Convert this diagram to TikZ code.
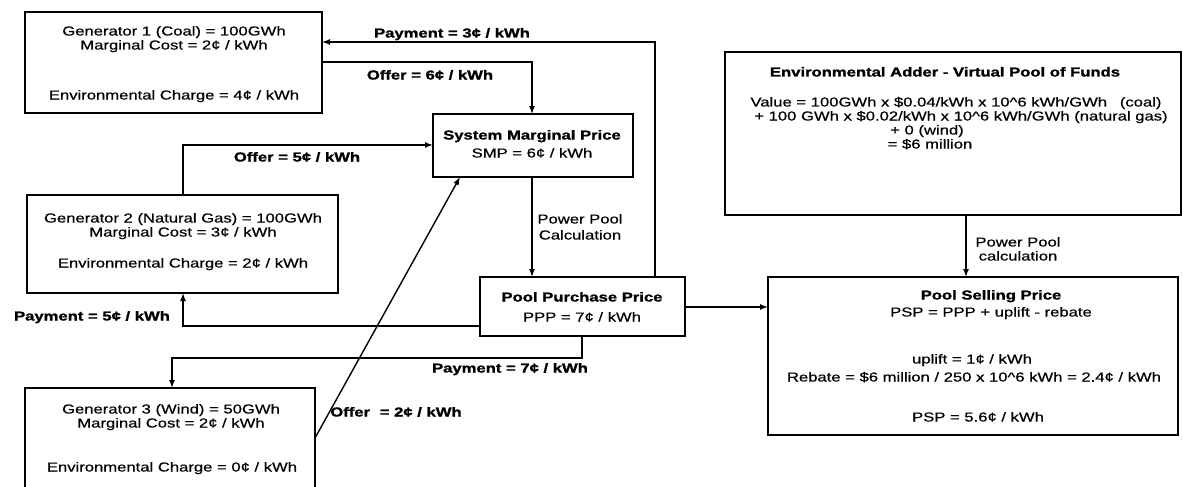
\documentclass[tikz,border=0pt]{standalone}
\usepackage{fontspec}
\setmainfont{Liberation Sans}[FakeBold=0.5]
\newfontfamily\heavyfont{Liberation Sans Bold}[FakeBold=1.2]
\usepackage{graphicx}
\usetikzlibrary{arrows.meta}
\newcommand{\sx}[1]{\scalebox{1.28}[1]{#1}}
\begin{document}
\begin{tikzpicture}[x=1pt,y=-1pt,
  font=\fontsize{13}{13}\selectfont,
  box/.style={draw, line width=1.7pt, inner sep=0pt, outer sep=0pt},
  conn/.style={line width=1.4pt, -{Latex[length=8pt,width=6pt]}},
  t/.style={inner sep=0pt, anchor=base, yshift=-4.5pt},
  tb/.style={t, font=\fontsize{13}{13}\selectfont\heavyfont}]
\useasboundingbox (0,0) rectangle (1183,487);
\clip (0,0) rectangle (1183,487);
% boxes
\node[box, minimum width=297pt, minimum height=101pt] (g1) at (173.5,62.5) {};
\node[box, minimum width=311pt, minimum height=98pt] (g2) at (182.5,244) {};
\node[box, minimum width=290pt, minimum height=112pt] (g3) at (170,444) {};
\node[box, minimum width=200pt, minimum height=63pt] (smp) at (533,145.5) {};
\node[box, minimum width=205pt, minimum height=59pt] (ppp) at (582.5,306.5) {};
\node[box, minimum width=410pt, minimum height=158pt] (psp) at (973,356) {};
\node[box, minimum width=456pt, minimum height=163pt] (env) at (953,133.5) {};
% box texts
\node[t] (g1a) at (174,31) {\sx{Generator 1 (Coal) = 100GWh}};
\node[t] (g1b) at (174,45) {\sx{Marginal Cost = 2¢ / kWh}};
\node[t] (g1c) at (174,95) {\sx{Environmental Charge = 4¢ / kWh}};
\node[t] (g2a) at (183,218) {\sx{Generator 2 (Natural Gas) = 100GWh}};
\node[t] (g2b) at (183,232) {\sx{Marginal Cost = 3¢ / kWh}};
\node[t] (g2c) at (183,263) {\sx{Environmental Charge = 2¢ / kWh}};
\node[t] (g3a) at (171,409) {\sx{Generator 3 (Wind) = 50GWh}};
\node[t] (g3b) at (171,423) {\sx{Marginal Cost = 2¢ / kWh}};
\node[t] (g3c) at (172,467) {\sx{Environmental Charge = 0¢ / kWh}};
\node[tb] (smpa) at (532,135) {\sx{System Marginal Price}};
\node[t] (smpb) at (532,153) {\sx{SMP = 6¢ / kWh}};
\node[tb] (pppa) at (582,297) {\sx{Pool Purchase Price}};
\node[t] (pppb) at (582,317) {\sx{PPP = 7¢ / kWh}};
\node[tb] (pspa) at (991,295) {\sx{Pool Selling Price}};
\node[t] (pspb) at (991,312) {\sx{PSP = PPP + uplift - rebate}};
\node[t] (pspc) at (972,359) {\sx{uplift = 1¢ / kWh}};
\node[t] (pspd) at (974,377) {\sx{Rebate = \$6 million / 250 x 10\textasciicircum 6 kWh = 2.4¢ / kWh}};
\node[t] (pspe) at (978,417) {\sx{PSP = 5.6¢ / kWh}};
\node[tb] (enva) at (945,72) {\sx{Environmental Adder - Virtual Pool of Funds}};
\node[t] (envb) at (956,102) {\sx{Value = 100GWh x \$0.04/kWh x 10\textasciicircum 6 kWh/GWh\hspace{10pt}(coal)}};
\node[t] (envc) at (961,116) {\sx{+ 100 GWh x \$0.02/kWh x 10\textasciicircum 6 kWh/GWh (natural gas)}};
\node[t] (envd) at (927,130) {\sx{+ 0 (wind)}};
\node[t] (enve) at (930,144) {\sx{= \$6 million}};
% helper coordinates
\coordinate (xP3) at (655,42);
\coordinate (o6) at (532,62);
\coordinate (o5) at (183,145);
\coordinate (o2a) at (315,438);
\coordinate (o2b) at (460,0);
\coordinate (p5) at (183,326);
\coordinate (p7a) at (582,358);
\coordinate (p7b) at (172,358);
\coordinate (pp) at (0,307);
\coordinate (ev) at (966,0);
% connectors
\draw[conn] (ppp.north -| xP3) |- (g1.east |- xP3);
\draw[conn] (g1.east |- o6) -| (smp.north -| o6);
\draw[conn] (g2.north -| o5) |- (smp.west |- o5);
\draw[conn] (g3.east |- o2a) -- (smp.south -| o2b);
\draw[conn] (smp.south -| o6) -- (ppp.north -| o6);
\draw[conn] (ppp.west |- p5) -| (g2.south -| p5);
\draw[conn] (ppp.south -| p7a) |- (p7b) -- (g3.north -| p7b);
\draw[conn] (ppp.east |- pp) -- (psp.west |- pp);
\draw[conn] (env.south -| ev) -- (psp.north -| ev);
% connector labels
\node[tb] (lP3) at (452,33) {\sx{Payment = 3¢ / kWh}};
\node[tb] (lO6) at (430,75) {\sx{Offer = 6¢ / kWh}};
\node[tb] (lO5) at (297,157) {\sx{Offer = 5¢ / kWh}};
\node[tb] (lP5) at (92,316) {\sx{Payment = 5¢ / kWh}};
\node[tb] (lP7) at (510,368) {\sx{Payment = 7¢ / kWh}};
\node[tb] (lO2) at (396,412) {\sx{Offer\hspace{4pt} = 2¢ / kWh}};
\node[t] (lPPa) at (580,219) {\sx{Power Pool}};
\node[t] (lPPb) at (580,235) {\sx{Calculation}};
\node[t] (lPPc) at (1018,242) {\sx{Power Pool}};
\node[t] (lPPd) at (1018,256) {\sx{calculation}};
\end{tikzpicture}
\end{document}
